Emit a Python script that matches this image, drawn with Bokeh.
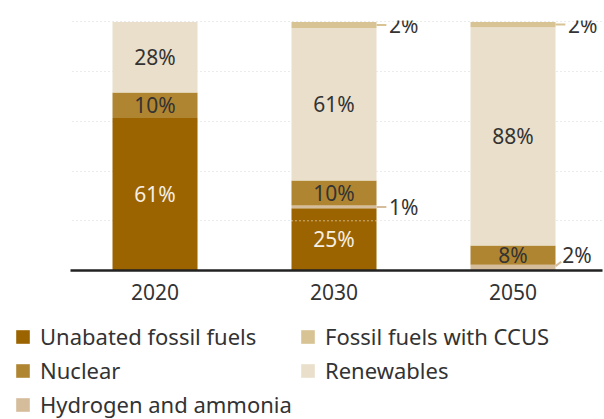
from bokeh.plotting import figure
from bokeh.layouts import column
from bokeh.models import Range1d, FixedTicker, Legend, LegendItem, ColumnDataSource, BoxAnnotation
from bokeh.core.properties import value
from bokeh.embed import file_html
from bokeh.resources import INLINE

# ---- data (shares of total, %) ----
years = ["2020", "2030", "2050"]
unabated = [61.4, 25.0, 0.0]
hydrogen = [0.0, 1.2, 2.3]
nuclear = [10.2, 10.0, 7.8]
renewables = [28.4, 61.4, 87.8]
ccus = [0.0, 2.4, 2.1]

series_names = ["Unabated fossil fuels", "Hydrogen and ammonia", "Nuclear", "Renewables", "Fossil fuels with CCUS"]
series_vals = [unabated, hydrogen, nuclear, renewables, ccus]
colors = ["#9b6400", "#d5bc9b", "#b08531", "#e9dfcb", "#d8c394"]
keys = ["unabated", "hydrogen", "nuclear", "renewables", "ccus"]

FONT = "Noto Sans"
DARK = "#333333"
BAR_W = 0.475
X_START, X_AXIS_START, X_END = -0.785, -0.472, 2.5

xs = list(range(len(years)))
src = ColumnDataSource(dict(x=xs, **{k: v for k, v in zip(keys, series_vals)}))

p = figure(width=604, height=305, output_backend="svg", toolbar_location=None,
           x_range=Range1d(X_START, X_END), y_range=Range1d(0, 100.6),
           min_border_left=14, min_border_right=2, min_border_top=20, min_border_bottom=35)
p.outline_line_color = None
p.background_fill_color = "white"

# grid
p.xgrid.visible = False
p.ygrid.ticker = FixedTicker(ticks=[20, 40, 60, 80, 100])
p.ygrid.grid_line_color = "#d6d6d6"
p.ygrid.grid_line_dash = "1 3"
p.ygrid.grid_line_width = 1
g = p.ygrid[0]
if hasattr(g, "cross_bounds"):
    g.cross_bounds = (X_AXIS_START + 0.01, X_END)
else:
    p.add_layout(BoxAnnotation(right=X_AXIS_START + 0.01, fill_color="white", fill_alpha=1,
                               line_color=None, level="underlay"))

renderers = p.vbar_stack(keys, x="x", width=BAR_W, color=colors, line_color=None, source=src)

# axes
p.yaxis.visible = False
p.xaxis.ticker = FixedTicker(ticks=xs)
p.xaxis.bounds = (X_AXIS_START, X_END)
p.xaxis.major_label_overrides = {i: y for i, y in enumerate(years)}
p.xaxis.axis_line_color = "#222222"
p.xaxis.axis_line_width = 2.5
p.xaxis.major_tick_line_color = None
p.xaxis.minor_tick_line_color = None
p.xaxis.major_label_text_font = FONT
p.xaxis.major_label_text_font_size = "21px"
p.xaxis.major_label_text_color = DARK
p.xaxis.major_label_standoff = 7

# dotted white marker inside the 2030 fossil bar at the 20% level
p.segment(x0=[xs[1] - BAR_W / 2], x1=[xs[1] + BAR_W / 2], y0=[20], y1=[20],
          line_color="white", line_dash="1 3", line_width=1)

# labels
in_x, in_y, in_t, in_c = [], [], [], []
out_x, out_y, out_t = [], [], []
ld_x0, ld_x1, ld_y0, ld_y1, ld_c = [], [], [], [], []
for i in xs:
    bottom = 0.0
    for k, (vals, col) in enumerate(zip(series_vals, colors)):
        v = vals[i]
        if v <= 0:
            continue
        mid = bottom + v / 2
        lab = f"{round(v)}%"
        if v >= 5:
            in_x.append(i); in_y.append(mid); in_t.append(lab)
            in_c.append("#f6efe4" if k == 0 else DARK)
        else:
            edge = i + BAR_W / 2
            if bottom == 0 and i == 2:
                # bottom sliver: label raised with diagonal leader
                ld_x0.append(edge); ld_y0.append(mid + 0.6)
                ld_x1.append(edge + 0.032); ld_y1.append(mid + 2.4)
                out_x.append(edge + 0.038); out_y.append(mid + 5.2); out_t.append(lab)
            else:
                ld_x0.append(edge); ld_y0.append(mid)
                ld_x1.append(edge + 0.055); ld_y1.append(mid)
                out_x.append(edge + 0.07); out_y.append(mid); out_t.append(lab)
            ld_c.append(col)
        bottom += v

p.segment(x0=ld_x0, x1=ld_x1, y0=ld_y0, y1=ld_y1, line_color=ld_c, line_width=2)
p.text(x=in_x, y=in_y, text=in_t, text_color=in_c, text_font=value(FONT),
       text_font_size="21px", text_align="center", text_baseline="middle")
p.text(x=out_x, y=out_y, text=out_t, text_color=DARK, text_font=value(FONT),
       text_font_size="21px", text_align="left", text_baseline="middle")

# ---- legend in its own strip below the chart ----
lf = figure(width=604, height=114, output_backend="svg", toolbar_location=None,
            x_axis_type=None, y_axis_type=None,
            x_range=Range1d(1000, 1001), y_range=Range1d(1000, 1001),
            min_border_left=14, min_border_right=2, min_border_top=16, min_border_bottom=0)
lf.outline_line_color = None
lf.xgrid.visible = False
lf.ygrid.visible = False
# swatch renderers share the chart data but sit far outside this strip's visible range
swatches = [lf.vbar(x="x", top=k, width=BAR_W, color=c, line_color=None, source=src)
            for k, c in zip(keys, colors)]

order = [0, 2, 1, 4, 3]  # column-major fill: col 1 = first three items
items = [LegendItem(label=series_names[j], renderers=[swatches[j]]) for j in order]
legend = Legend(items=items, ncols=2, location="top_left",
                label_text_font=FONT, label_text_font_size="22px", label_text_color=DARK,
                glyph_width=17, glyph_height=17, label_standoff=9, spacing=4,
                label_width=255, padding=0, margin=0, border_line_color=None,
                background_fill_alpha=0)
lf.add_layout(legend)

layout = column(p, lf, spacing=0)
open("out.html", "w").write(file_html(layout, INLINE))
